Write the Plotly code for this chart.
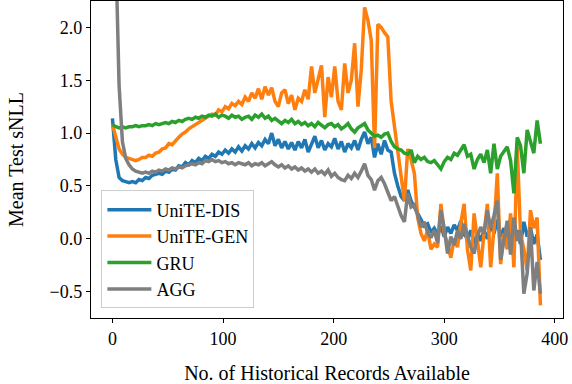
"""
Mean test sNLL vs. number of historical records, Plotly version
"""
import plotly.graph_objects as go

# x positions (every 3 records)
records = list(range(0, 390, 3))

unite_dis = [
    1.14, 0.75, 0.58, 0.55, 0.54, 0.53, 0.54, 0.53, 0.56, 0.55,
    0.58, 0.57, 0.60, 0.61, 0.62, 0.61, 0.64, 0.63, 0.66, 0.65,
    0.69, 0.68, 0.72, 0.70, 0.74, 0.72, 0.76, 0.74, 0.78, 0.76,
    0.80, 0.78, 0.82, 0.80, 0.84, 0.81, 0.85, 0.82, 0.87, 0.83,
    0.88, 0.85, 0.90, 0.86, 0.91, 0.88, 0.94, 0.90, 1.00, 0.88,
    0.94, 0.86, 0.92, 0.85, 0.91, 0.84, 0.92, 0.86, 0.94, 0.82,
    0.90, 0.97, 0.86, 0.93, 0.84, 0.90, 0.87, 0.95, 0.85, 0.92,
    0.82, 0.90, 0.86, 0.93, 0.84, 0.94, 1.01, 0.90, 0.96, 0.77,
    0.90, 0.80, 0.93, 0.84, 0.82, 0.62, 0.50, 0.40, 0.36, 0.46,
    0.36, 0.30, 0.24, 0.18, 0.12, 0.14, 0.06, 0.10, 0.04, 0.12,
    0.02, 0.11, 0.05, 0.13, 0.08, 0.17, 0.04, 0.00, 0.08, -0.05,
    0.06, -0.02, 0.08, 0.00, 0.14, 0.05, 0.18, 0.02, 0.10, -0.02,
    0.06, 0.00, 0.08, -0.05, 0.16, 0.02, 0.10, -0.05, 0.04, -0.20,
]

unite_gen = [
    1.08, 0.95, 0.85, 0.80, 0.77, 0.76, 0.75, 0.74, 0.75, 0.77,
    0.77, 0.79, 0.78, 0.81, 0.82, 0.85, 0.86, 0.90, 0.89, 0.93,
    0.96, 0.99, 1.01, 1.04, 1.06, 1.08, 1.10, 1.12, 1.14, 1.16,
    1.18, 1.17, 1.22, 1.20, 1.25, 1.23, 1.28, 1.26, 1.30, 1.27,
    1.34, 1.30, 1.38, 1.33, 1.42, 1.32, 1.44, 1.36, 1.43, 1.30,
    1.25, 1.38, 1.41, 1.28, 1.36, 1.22, 1.33, 1.30, 1.41, 1.32,
    1.63, 1.38, 1.50, 1.64, 1.15, 1.53, 1.34, 1.63, 1.30, 1.22,
    1.66, 1.38, 1.50, 1.85, 1.25, 1.60, 2.19, 2.07, 1.88, 0.86,
    2.03, 2.00, 1.95, 1.91, 1.30, 1.05, 0.85, 0.55, 0.36, 0.85,
    0.75, 0.62, 0.20, 0.05, -0.02, 0.08, -0.10, -0.05, -0.08, 0.33,
    0.05, -0.05, -0.18, 0.00, -0.08, 0.15, 0.33, -0.10, -0.30, 0.24,
    0.00, -0.27, 0.05, 0.33, -0.27, 0.10, 0.62, -0.24, 0.05, -0.10,
    0.24, -0.27, 0.87, 0.05, -0.10, -0.30, 0.27, 0.10, 0.20, -0.63,
]

gru = [
    1.08, 1.06, 1.05, 1.06, 1.05, 1.06, 1.06, 1.07, 1.06, 1.07,
    1.07, 1.08, 1.07, 1.09, 1.08, 1.09, 1.10, 1.09, 1.11, 1.10,
    1.12, 1.11, 1.13, 1.14, 1.13, 1.15, 1.14, 1.16, 1.15, 1.17,
    1.16, 1.18, 1.15, 1.17, 1.16, 1.14, 1.17, 1.15, 1.16, 1.13,
    1.15, 1.16, 1.13, 1.17, 1.15, 1.18, 1.14, 1.16, 1.12, 1.14,
    1.11, 1.09, 1.12, 1.10, 1.13, 1.09, 1.11, 1.08, 1.10, 1.07,
    1.09, 1.06, 1.10, 1.07, 1.05, 1.08, 1.09, 1.06, 1.08, 1.04,
    1.06, 1.09, 1.04, 1.01, 1.05, 1.07, 1.09, 1.03, 1.00, 0.97,
    0.98, 0.96, 0.99, 1.00, 0.92, 0.87, 0.85, 0.84, 0.81, 0.80,
    0.84, 0.72, 0.78, 0.75, 0.77, 0.73, 0.72, 0.74, 0.70, 0.66,
    0.73, 0.77, 0.75, 0.81, 0.79, 0.84, 0.89, 0.78, 0.80, 0.66,
    0.75, 0.80, 0.72, 0.84, 0.62, 0.90, 0.66, 0.78, 0.82, 0.87,
    0.74, 0.43, 0.96, 0.88, 0.62, 1.03, 0.92, 0.81, 1.12, 0.90,
]

agg = [
    4.00, 2.80, 1.45, 0.92, 0.76, 0.70, 0.66, 0.64, 0.63, 0.62,
    0.63, 0.62, 0.64, 0.63, 0.65, 0.64, 0.66, 0.65, 0.67, 0.66,
    0.68, 0.67, 0.69, 0.70, 0.71, 0.70, 0.72, 0.71, 0.74, 0.73,
    0.75, 0.73, 0.74, 0.72, 0.73, 0.71, 0.72, 0.70, 0.72, 0.71,
    0.70, 0.72, 0.69, 0.71, 0.70, 0.72, 0.69, 0.71, 0.73, 0.70,
    0.68, 0.70, 0.67, 0.69, 0.66, 0.68, 0.65, 0.67, 0.64, 0.66,
    0.63, 0.66, 0.62, 0.64, 0.61, 0.65, 0.59, 0.62, 0.58, 0.56,
    0.55, 0.60, 0.57, 0.62, 0.58, 0.64, 0.71, 0.60, 0.56, 0.46,
    0.55, 0.58, 0.52, 0.44, 0.36, 0.40, 0.30, 0.22, 0.16, 0.43,
    0.30, 0.32, 0.22, 0.11, 0.16, 0.06, 0.01, 0.08, -0.04, 0.27,
    0.10, -0.14, 0.02, -0.06, 0.08, 0.00, 0.14, 0.02, -0.08, -0.14,
    0.02, 0.11, 0.05, 0.27, 0.10, 0.22, 0.36, -0.20, 0.00, 0.17,
    -0.15, 0.20, -0.02, 0.08, -0.52, -0.33, 0.11, -0.49, -0.22, -0.52,
]

series = [
    ('UniTE-DIS', unite_dis, '#1f77b4'),
    ('UniTE-GEN', unite_gen, '#ff7f0e'),
    ('GRU', gru, '#2ca02c'),
    ('AGG', agg, '#7f7f7f'),
]

FONT = 'Liberation Serif, Times New Roman, serif'

fig = go.Figure()
for name, vals, color in series:
    fig.add_trace(go.Scatter(
        x=records, y=vals, name=name, mode='lines',
        line=dict(color=color, width=3.5),
    ))

axis_style = dict(
    showline=True, mirror=True, linecolor='black', linewidth=1.3,
    ticks='outside', ticklen=4, tickwidth=1.2, tickcolor='black',
    showgrid=False, zeroline=False, automargin=False,
    tickfont=dict(family=FONT, size=18, color='black'),
)

fig.update_layout(
    width=572, height=384,
    margin=dict(l=91, r=9, t=1, b=66),
    plot_bgcolor='white', paper_bgcolor='white',
    font=dict(family=FONT, size=18, color='black'),
    xaxis=dict(range=[-19.4, 407.4], dtick=100,
               title=dict(text='No. of Historical Records Available',
                          font=dict(family=FONT, size=20), standoff=18),
               **axis_style),
    yaxis=dict(range=[-0.75, 2.25], dtick=0.5, tickformat='.1f',
               title=dict(text='Mean Test sNLL',
                          font=dict(family=FONT, size=20), standoff=20),
               **axis_style),
    legend=dict(
        x=0.022, y=0.03, xanchor='left', yanchor='bottom',
        bgcolor='rgba(255,255,255,0.85)', bordercolor='#cccccc', borderwidth=1,
        font=dict(family=FONT, size=18), itemwidth=44,
        tracegroupgap=0,
    ),
    showlegend=True,
)

# the page's default body margin would shift the figure by 8px
fig.write_html("out.html", config={'displayModeBar': False},
               post_script="document.body.style.margin='0';")
